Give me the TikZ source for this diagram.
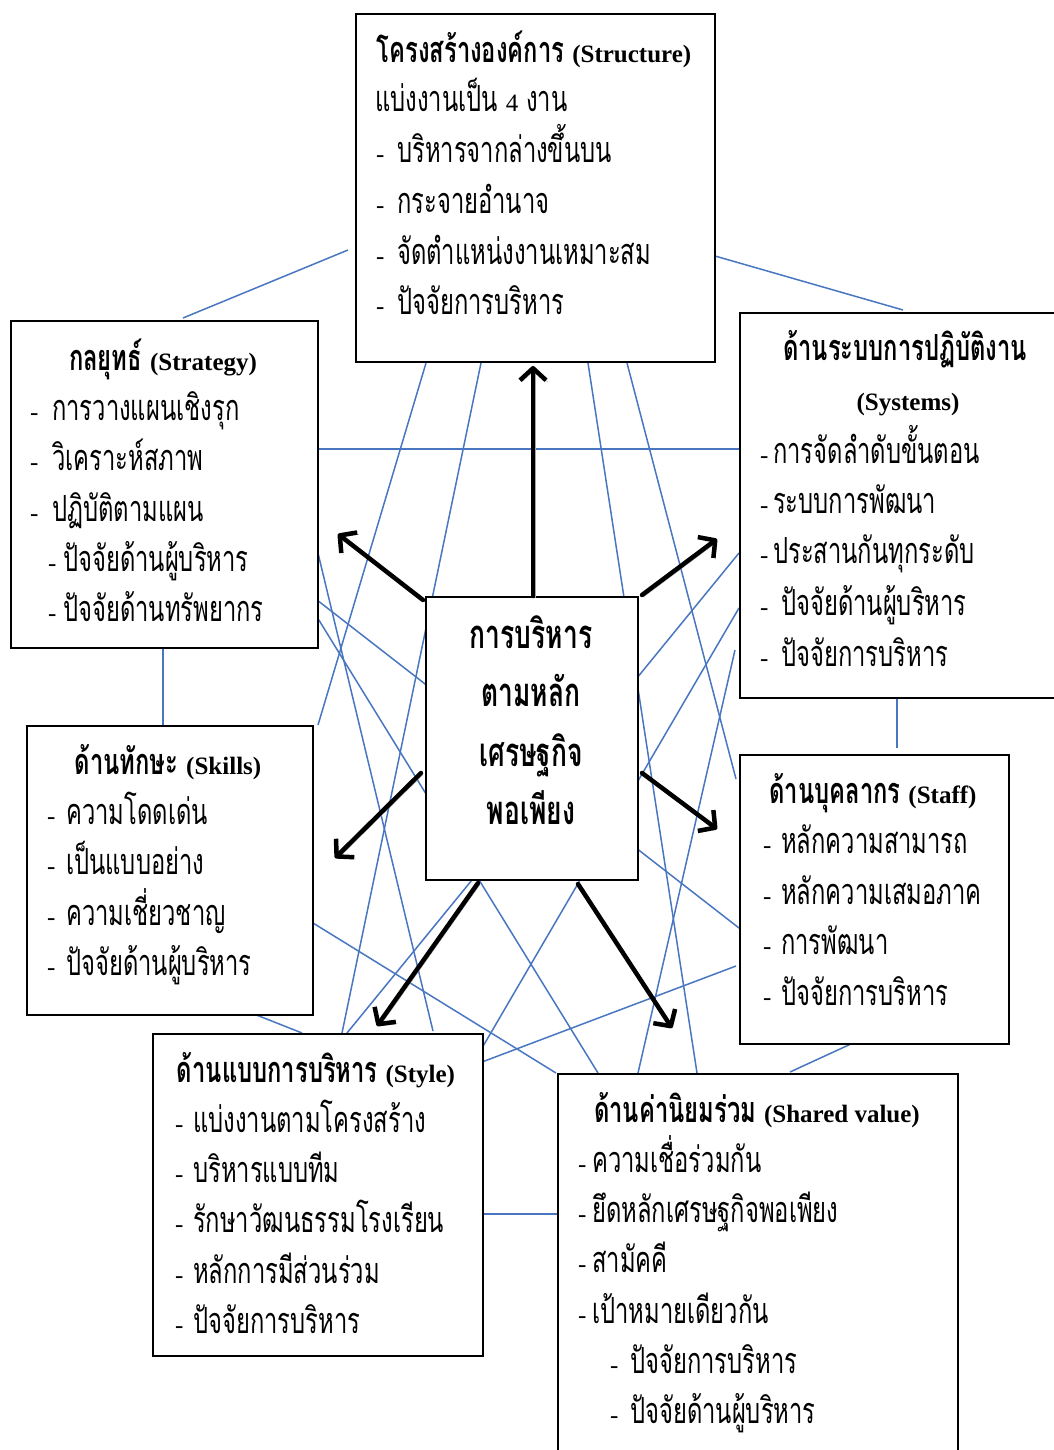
\documentclass[tikz,border=0pt]{standalone}
\usepackage{fontspec}
\setmainfont{Liberation Serif}
\newfontfamily\thai[Script=Thai,FakeStretch=0.66]{Loma}
\usetikzlibrary{arrows.meta}
\definecolor{linkblue}{RGB}{72,118,192}
\newcommand\latn[1]{{\rmfamily\fontsize{25}{28}\selectfont #1}}
\newcommand\thsz{\thai\fontsize{36}{40}\selectfont}
\tikzset{
  box/.style={draw=black, line width=2pt, fill=white, inner sep=0pt, anchor=north west},
  link/.style={draw=linkblue, line width=1.5pt},
  bigarrow/.style={draw=black, line width=4.5pt, line cap=round,
     -{Straight Barb[length=12pt,width=26pt,line join=round]},
     preaction={draw=black!35, transform canvas={shift={(1.8,1.8)}}}},
  txt/.style={anchor=base west, inner sep=0pt, font=\thsz},
  ttl/.style={anchor=base, inner sep=0pt, font=\thsz\bfseries},
  ctr/.style={anchor=base, inner sep=0pt, font=\thai\fontsize{40}{44}\selectfont\bfseries},
}
\begin{document}
\begin{tikzpicture}[x=1pt,y=-1pt]
\useasboundingbox (0,0) rectangle (1054,1450);
\clip (0,0) rectangle (1054,1450);
% connector end points
\coordinate (c1a) at (348,250);  \coordinate (c1b) at (183,318);
\coordinate (c2a) at (715,256);  \coordinate (c2b) at (903,310);
\coordinate (c3a) at (317,449);  \coordinate (c3b) at (739,449);
\coordinate (c4a) at (163,647);  \coordinate (c4b) at (163,725);
\coordinate (c5a) at (897,697);  \coordinate (c5b) at (897,748);
\coordinate (c6a) at (254,1014); \coordinate (c6b) at (302,1033);
\coordinate (c7a) at (853,1043); \coordinate (c7b) at (790,1072);
\coordinate (c8a) at (482,1214); \coordinate (c8b) at (557,1214);
\coordinate (c9a) at (426,363);  \coordinate (c9b) at (318,725);
\coordinate (c10a) at (481,363); \coordinate (c10b) at (342,1033);
\coordinate (c11a) at (588,363); \coordinate (c11b) at (697,1073);
\coordinate (c12a) at (627,363); \coordinate (c12b) at (736,779);
\coordinate (c13a) at (317,549); \coordinate (c13b) at (433,1031);
\coordinate (c14a) at (317,600); \coordinate (c14b) at (739,928);
\coordinate (c15a) at (317,617); \coordinate (c15b) at (598,1073);
\coordinate (c16a) at (313,923); \coordinate (c16b) at (556,1073);
\coordinate (c17a) at (347,1033); \coordinate (c17b) at (739,553);
\coordinate (c18a) at (739,608); \coordinate (c18b) at (482,1048);
\coordinate (c19a) at (735,650); \coordinate (c19b) at (638,1073);
\coordinate (c20a) at (482,1062); \coordinate (c20b) at (736,966);
\foreach \i in {1,...,20} {\draw[link] (c\i a) -- (c\i b);}

% boxes
\node[box, minimum width=359pt, minimum height=348pt] (structure) at (355,13) {};
\node[box, minimum width=307pt, minimum height=327pt] (strategy) at (10,320) {};
\node[box, minimum width=340pt, minimum height=385pt] (systems) at (739,312) {};
\node[box, minimum width=286pt, minimum height=289pt] (skills) at (26,725) {};
\node[box, minimum width=269pt, minimum height=289pt] (staff) at (739,754) {};
\node[box, minimum width=330pt, minimum height=322pt] (style) at (152,1033) {};
\node[box, minimum width=400pt, minimum height=400pt] (shared) at (557,1073) {};
\node[box, minimum width=212pt, minimum height=283pt] (center) at (425,596) {};

% Structure
\node[ttl] (st0) at (534,63) {โครงสร้างองค์การ \latn{(Structure)}};
\node[txt] (st1) at (375,112) {แบ่งงานเป็น \latn{4} งาน};
\node[txt] (st2d) at (376,163) {\latn{-}}; \node[txt] (st2) at (397,163) {บริหารจากล่างขึ้นบน};
\node[txt] (st3d) at (376,214) {\latn{-}}; \node[txt] (st3) at (397,214) {กระจายอำนาจ};
\node[txt] (st4d) at (376,264) {\latn{-}}; \node[txt] (st4) at (397,264) {จัดตำแหน่งงานเหมาะสม};
\node[txt] (st5d) at (376,314) {\latn{-}}; \node[txt] (st5) at (397,314) {ปัจจัยการบริหาร};

% Strategy
\node[ttl] (sg0) at (163,370) {กลยุทธ์ \latn{(Strategy)}};
\node[txt] (sg1d) at (30,420) {\latn{-}}; \node[txt] (sg1) at (52,420) {การวางแผนเชิงรุก};
\node[txt] (sg2d) at (30,470) {\latn{-}}; \node[txt] (sg2) at (52,470) {วิเคราะห์สภาพ};
\node[txt] (sg3d) at (30,521) {\latn{-}}; \node[txt] (sg3) at (52,521) {ปฏิบัติตามแผน};
\node[txt] (sg4d) at (48,571) {\latn{-}}; \node[txt] (sg4) at (63,571) {ปัจจัยด้านผู้บริหาร};
\node[txt] (sg5d) at (48,621) {\latn{-}}; \node[txt] (sg5) at (63,621) {ปัจจัยด้านทรัพยากร};

% Systems
\node[ttl] (sy0) at (905,360) {ด้านระบบการปฏิบัติงาน};
\node[ttl] (sy0b) at (908,410) {\latn{(Systems)}};
\node[txt] (sy1d) at (760,463) {\latn{-}}; \node[txt] (sy1) at (773,463) {การจัดลำดับขั้นตอน};
\node[txt] (sy2d) at (760,513) {\latn{-}}; \node[txt] (sy2) at (773,513) {ระบบการพัฒนา};
\node[txt] (sy3d) at (760,563) {\latn{-}}; \node[txt] (sy3) at (773,563) {ประสานกันทุกระดับ};
\node[txt] (sy4d) at (760,615) {\latn{-}}; \node[txt] (sy4) at (781,615) {ปัจจัยด้านผู้บริหาร};
\node[txt] (sy5d) at (760,666) {\latn{-}}; \node[txt] (sy5) at (781,666) {ปัจจัยการบริหาร};

% Center
\node[ctr] (ce1) at (531,648) {การบริหาร};
\node[ctr] (ce2) at (531,706) {ตามหลัก};
\node[ctr] (ce3) at (531,766) {เศรษฐกิจ};
\node[ctr] (ce4) at (531,824) {พอเพียง};

% Skills
\node[ttl] (sk0) at (168,774) {ด้านทักษะ \latn{(Skills)}};
\node[txt] (sk1d) at (47,824) {\latn{-}}; \node[txt] (sk1) at (66,824) {ความโดดเด่น};
\node[txt] (sk2d) at (47,874) {\latn{-}}; \node[txt] (sk2) at (66,874) {เป็นแบบอย่าง};
\node[txt] (sk3d) at (47,925) {\latn{-}}; \node[txt] (sk3) at (66,925) {ความเชี่ยวชาญ};
\node[txt] (sk4d) at (47,975) {\latn{-}}; \node[txt] (sk4) at (66,975) {ปัจจัยด้านผู้บริหาร};

% Staff
\node[ttl] (sf0) at (873,803) {ด้านบุคลากร \latn{(Staff)}};
\node[txt] (sf1d) at (763,853) {\latn{-}}; \node[txt] (sf1) at (781,853) {หลักความสามารถ};
\node[txt] (sf2d) at (763,904) {\latn{-}}; \node[txt] (sf2) at (781,904) {หลักความเสมอภาค};
\node[txt] (sf3d) at (763,954) {\latn{-}}; \node[txt] (sf3) at (781,954) {การพัฒนา};
\node[txt] (sf4d) at (763,1005) {\latn{-}}; \node[txt] (sf4) at (781,1005) {ปัจจัยการบริหาร};

% Style
\node[ttl] (sl0) at (316,1082) {ด้านแบบการบริหาร \latn{(Style)}};
\node[txt] (sl1d) at (175,1132) {\latn{-}}; \node[txt] (sl1) at (193,1132) {แบ่งงานตามโครงสร้าง};
\node[txt] (sl2d) at (175,1182) {\latn{-}}; \node[txt] (sl2) at (193,1182) {บริหารแบบทีม};
\node[txt] (sl3d) at (175,1232) {\latn{-}}; \node[txt] (sl3) at (193,1232) {รักษาวัฒนธรรมโรงเรียน};
\node[txt] (sl4d) at (175,1283) {\latn{-}}; \node[txt] (sl4) at (193,1283) {หลักการมีส่วนร่วม};
\node[txt] (sl5d) at (175,1333) {\latn{-}}; \node[txt] (sl5) at (193,1333) {ปัจจัยการบริหาร};

% Shared value
\node[ttl] (sv0) at (757,1122) {ด้านค่านิยมร่วม \latn{(Shared value)}};
\node[txt] (sv1d) at (578,1172) {\latn{-}}; \node[txt] (sv1) at (592,1172) {ความเชื่อร่วมกัน};
\node[txt] (sv2d) at (578,1222) {\latn{-}}; \node[txt] (sv2) at (592,1222) {ยึดหลักเศรษฐกิจพอเพียง};
\node[txt] (sv3d) at (578,1272) {\latn{-}}; \node[txt] (sv3) at (592,1272) {สามัคคี};
\node[txt] (sv4d) at (578,1323) {\latn{-}}; \node[txt] (sv4) at (592,1323) {เป้าหมายเดียวกัน};
\node[txt] (sv5d) at (610,1373) {\latn{-}}; \node[txt] (sv5) at (630,1373) {ปัจจัยการบริหาร};
\node[txt] (sv6d) at (610,1423) {\latn{-}}; \node[txt] (sv6) at (630,1423) {ปัจจัยด้านผู้บริหาร};

% arrows from the centre
\coordinate (aup) at (533,366);
\coordinate (aul) at (338,534);
\coordinate (aur) at (717,539);
\coordinate (ald) at (335,858);
\coordinate (ard) at (717,829);
\coordinate (adl) at (377,1026);
\coordinate (adr) at (672,1028);
\draw[bigarrow] (center.north -| aup) -- (aup);
\draw[bigarrow] ([xshift=-2pt,yshift=-4pt]center.north west) -- (aul);
\draw[bigarrow] ([xshift=3pt,yshift=1pt]center.north east) -- (aur);
\draw[bigarrow] ([xshift=-4pt]center.west |- 0,773) -- (ald);
\draw[bigarrow] ([xshift=3pt]center.east |- 0,773) -- (ard);
\draw[bigarrow] ([yshift=-2pt]center.south -| 478,0) -- (adl);
\draw[bigarrow] ([yshift=-3pt]center.south -| 578,0) -- (adr);
\end{tikzpicture}
\end{document}
